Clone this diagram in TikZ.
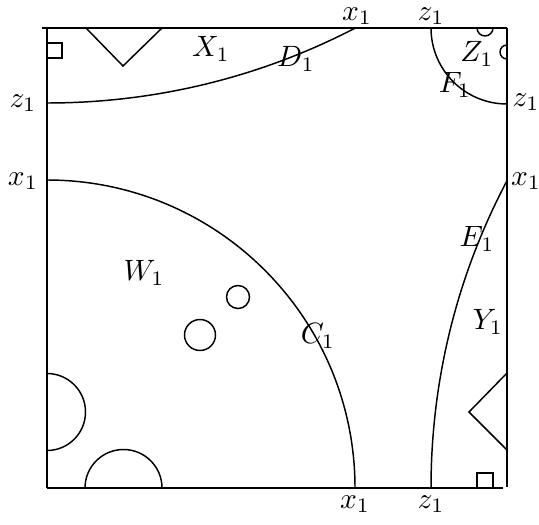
\documentclass[tikz,border=0pt]{standalone}
\begin{document}
\begin{tikzpicture}[x=0.34pt,y=-0.34pt,line width=0.5pt,
  lab/.style={inner sep=0pt}]
\useasboundingbox (0,0) rectangle (539,524);
% square border
\draw (42,28) -- (507,28);
\draw (47,28) -- (47,488);
\draw (47,488) -- (503,488);
\draw (507,28) -- (507,487);
% arcs, clipped to the square
\begin{scope}
\clip (47,28) rectangle (507,488);
\draw (47,-567) circle[radius=670*0.34pt];
\draw (47,488) circle[radius=308*0.34pt];
\draw (1089,488) circle[radius=658*0.34pt];
\draw (507,28) circle[radius=76*0.34pt];
\draw (47,412) circle[radius=38.5*0.34pt];
\draw (123.5,488) circle[radius=38.5*0.34pt];
\draw (485,28) circle[radius=8*0.34pt];
\draw (507,52) circle[radius=7*0.34pt];
\end{scope}
% triangles and squares
\draw (86,28) -- (123,66) -- (162,28);
\draw (507,373) -- (469,412) -- (507,450);
\draw (47,43) -- (62,43) -- (62,58) -- (47,58);
\draw (477,488) -- (477,473) -- (493,473) -- (493,488);
% inner circles
\draw (238,297) circle[radius=11.5*0.34pt];
\draw (200,335) circle[radius=15.5*0.34pt];
% boundary labels
\node[lab] (tx) at (357,16) {$x_1$};
\node[lab] (tz) at (431,16) {$z_1$};
\node[lab] (bx) at (355,504) {$x_1$};
\node[lab] (bz) at (431,504) {$z_1$};
\node[lab] (lz) at (23,103) {$z_1$};
\node[lab] (lx) at (23,181) {$x_1$};
\node[lab] (rz) at (526,102) {$z_1$};
\node[lab] (rx) at (526,181) {$x_1$};
% region labels
\node[lab] (X) at (211,49) {$X_1$};
\node[lab] (D) at (296,59) {$D_1$};
\node[lab] (Z) at (477,54) {$Z_1$};
\node[lab] (F) at (455,85) {$F_1$};
\node[lab] (W) at (144,273) {$W_1$};
\node[lab] (C) at (318,336) {$C_1$};
\node[lab] (E) at (477,239) {$E_1$};
\node[lab] (Y) at (488,322) {$Y_1$};
\end{tikzpicture}
\end{document}
